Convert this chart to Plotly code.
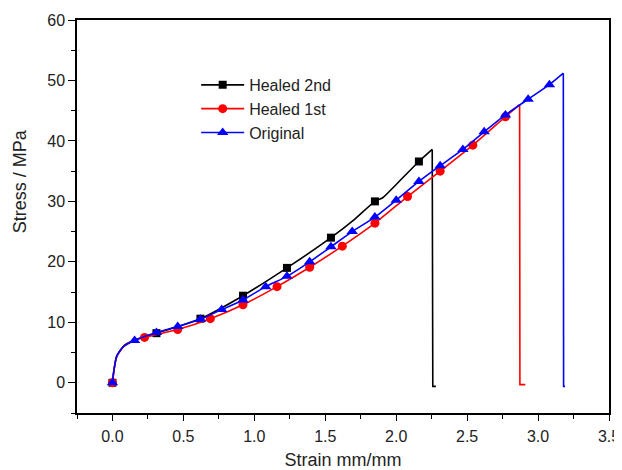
import plotly.graph_objects as go

# ---- data ----
# Healed 2nd (black squares)
h2_marker_x = [0, 0.31, 0.62, 0.92, 1.23, 1.54, 1.85, 2.16]
h2_marker_y = [0, 8.2, 10.6, 14.4, 19.0, 24.0, 30.0, 36.6]
h2_curve_x = [0, 0.01, 0.03, 0.08, 0.16, 0.31, 0.62, 0.92, 1.23, 1.54, 1.70, 1.85, 1.905, 2.0, 2.16, 2.254]
h2_curve_y = [0, 2.0, 4.4, 6.1, 7.1, 8.2, 10.6, 14.4, 19.0, 24.0, 26.9, 30.0, 30.6, 32.8, 36.6, 38.6]
h2_drop_x = [2.254, 2.258, 2.28]
h2_drop_y = [38.6, -0.6, -0.6]

# Healed 1st (red circles)
h1_marker_x = [0, 0.226, 0.46, 0.69, 0.92, 1.16, 1.39, 1.62, 1.85, 2.08, 2.31, 2.54, 2.77]
h1_marker_y = [0, 7.5, 8.8, 10.6, 12.9, 15.9, 19.1, 22.6, 26.4, 30.8, 35.0, 39.3, 44.0]
h1_curve_x = [0, 0.01, 0.03, 0.08, 0.15] + h1_marker_x[1:] + [2.87]
h1_curve_y = [0, 2.0, 4.3, 6.0, 7.0] + h1_marker_y[1:] + [46.0]
h1_drop_x = [2.87, 2.872, 2.91]
h1_drop_y = [46.0, -0.3, -0.3]

# Original (blue triangles)
or_marker_x = [0, 0.156, 0.31, 0.46, 0.62, 0.77, 0.92, 1.08, 1.23, 1.39, 1.54, 1.69,
               1.85, 2.0, 2.16, 2.31, 2.47, 2.62, 2.77, 2.93, 3.08]
or_marker_y = [0, 7.0, 8.3, 9.3, 10.5, 12.1, 13.7, 15.9, 17.6, 20.0, 22.5, 25.0,
               27.4, 30.2, 33.3, 35.9, 38.6, 41.5, 44.3, 46.9, 49.3]
or_curve_x = [0, 0.01, 0.03, 0.078] + or_marker_x[1:] + [3.178]
or_curve_y = [0, 2.0, 4.4, 6.0] + or_marker_y[1:] + [51.2]
or_drop_x = [3.178, 3.18, 3.19]
or_drop_y = [51.2, -0.6, -0.6]

x_ticks = [0, 0.5, 1.0, 1.5, 2.0, 2.5, 3.0, 3.5]
y_ticks = [0, 10, 20, 30, 40, 50, 60]

series = [
    ("Healed 2nd", "black", "square", 8, h2_curve_x, h2_curve_y, h2_drop_x, h2_drop_y, h2_marker_x, h2_marker_y),
    ("Healed 1st", "#ff0000", "circle", 9, h1_curve_x, h1_curve_y, h1_drop_x, h1_drop_y, h1_marker_x, h1_marker_y),
    ("Original", "#0000ff", "triangle-up", 10, or_curve_x, or_curve_y, or_drop_x, or_drop_y, or_marker_x, or_marker_y),
]

fig = go.Figure()
for name, color, symbol, size, cx, cy, dx, dy, mx, my in series:
    fig.add_trace(go.Scatter(x=cx, y=cy, mode="lines", line=dict(color=color, width=1.6, shape="spline", smoothing=0.6),
                             showlegend=False, legendgroup=name, hoverinfo="skip"))
    fig.add_trace(go.Scatter(x=dx, y=dy, mode="lines", line=dict(color=color, width=1.6),
                             showlegend=False, legendgroup=name, hoverinfo="skip"))
    fig.add_trace(go.Scatter(x=mx, y=my, mode="markers", marker=dict(color=color, symbol=symbol, size=size),
                             showlegend=False, legendgroup=name))
    fig.add_trace(go.Scatter(x=[None], y=[None], mode="lines+markers", name=name,
                             line=dict(color=color, width=1.6),
                             marker=dict(color=color, symbol=symbol, size=size),
                             legendgroup=name))

axis_common = dict(
    showline=True, linecolor="black", linewidth=1.5, mirror=True,
    showgrid=False, zeroline=False,
    ticks="outside", tickwidth=1.3, tickcolor="black",
    tickfont=dict(size=16, color="#222"),
)

fig.update_xaxes(range=[-0.25, 3.5], tickvals=x_ticks, ticklen=6, ticklabelstandoff=2,
                 tickformat=".1f",
                 minor=dict(dtick=0.25, tick0=0, ticks="outside", ticklen=4, tickwidth=1.3, tickcolor="black"),
                 title=dict(text="Strain mm/mm", font=dict(size=18, color="#222"), standoff=12),
                 **axis_common)
fig.update_yaxes(range=[-5, 60], tickvals=y_ticks, ticklen=7,
                 minor=dict(dtick=5, tick0=0, ticks="outside", ticklen=4, tickwidth=1.3, tickcolor="black"),
                 **axis_common)

fig.add_annotation(text="Stress / MPa", xref="paper", yref="paper",
                   x=-0.107, y=0.59, xanchor="center", yanchor="middle",
                   textangle=-90, showarrow=False, font=dict(size=18, color="#222"))

fig.update_layout(
    width=614, height=462,
    margin=dict(l=69, r=13, t=12, b=57, autoexpand=False),
    paper_bgcolor="white", plot_bgcolor="white",
    font=dict(family="Liberation Sans, Arial, sans-serif", color="#222"),
    legend=dict(x=0.224, y=0.878, xanchor="left", yanchor="top",
                font=dict(size=16, color="#222"), bgcolor="rgba(0,0,0,0)",
                tracegroupgap=0, itemwidth=43),
    showlegend=True,
)

fig.write_html("out.html")
